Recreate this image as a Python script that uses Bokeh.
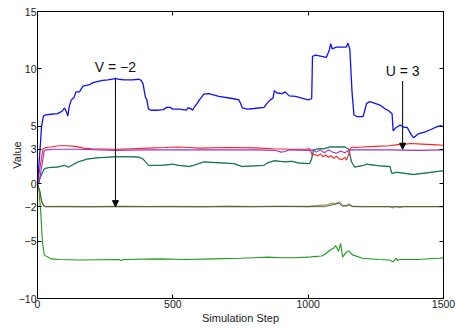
from bokeh.plotting import figure
from bokeh.models import LinearAxis, FixedTicker, Arrow, NormalHead, Label, CustomLabelingPolicy, Spacer
from bokeh.layouts import row
from bokeh.embed import file_html
from bokeh.resources import INLINE

# ---- data ----
blue_x = [0, 8, 15, 22, 30, 50, 74, 90, 100, 106, 112, 118, 125, 135, 142, 155, 168, 190, 205, 240, 260, 287,
          300, 320, 350, 375, 383, 390, 398, 404, 410, 420, 447, 465, 477, 490, 500, 525, 550, 555, 565, 573,
          580, 590, 598, 615, 633, 670, 725, 744, 750, 757, 775, 800, 837, 848, 860, 870, 875, 885, 905, 915,
          930, 953, 1000, 1013, 1016, 1027, 1050, 1067, 1079, 1083, 1089, 1104, 1125, 1141, 1147, 1154, 1162,
          1169, 1179, 1203, 1216, 1228, 1265, 1285, 1295, 1310, 1314, 1325, 1340, 1355, 1366, 1380, 1390,
          1407, 1430, 1451, 1475, 1489, 1500]
blue_y = [0, 2.5, 5.0, 5.9, 6.0, 6.05, 6.1, 6.3, 6.6, 6.3, 5.9, 6.8, 7.3, 7.5, 8.0, 8.0, 8.5, 8.6, 8.8, 9.0, 9.05, 9.15,
          9.1, 9.05, 9.05, 9.1, 9.0, 8.7, 7.6, 7.3, 6.5, 6.4, 6.4, 6.45, 6.65, 6.65, 6.5, 6.5, 6.4, 6.6, 6.55, 6.4,
          6.7, 7.0, 7.3, 7.8, 7.85, 7.6, 7.4, 7.3, 7.0, 6.6, 6.5, 6.55, 6.65, 7.0, 7.3, 7.45, 8.1, 7.9, 7.85, 8.0,
          7.65, 7.6, 7.3, 7.4, 11.1, 11.2, 11.1, 11.0, 11.7, 12.2, 11.75, 11.9, 11.9, 11.9, 12.25, 11.7, 8.0,
          6.0, 5.85, 5.85, 7.0, 7.15, 6.85, 6.5, 6.4, 6.1, 4.6, 4.9, 5.1, 4.9, 4.9, 4.3, 4.0,
          4.35, 4.5, 4.7, 4.95, 5.05, 4.95]

red_x = [0, 10, 20, 30, 50, 80, 110, 140, 170, 200, 287, 350, 410, 470, 520, 560, 600, 700, 800, 870, 940, 990,
         1005, 1015, 1025, 1035, 1045, 1055, 1065, 1075, 1085, 1095, 1105, 1115, 1125, 1135, 1142, 1150, 1155,
         1162, 1175, 1200, 1250, 1300, 1330, 1360, 1380, 1420, 1460, 1500]
red_y = [0, 1.5, 3.0, 3.15, 3.2, 3.3, 3.3, 3.25, 3.1, 3.05, 3.0, 3.05, 3.1, 3.15, 3.2, 3.15, 3.1, 3.15, 3.12, 3.05, 3.0, 3.0,
         3.05, 2.5, 2.55, 2.4, 2.6, 2.35, 2.5, 2.3, 2.45, 2.2, 2.4, 2.15, 2.1, 2.3, 2.05, 2.6, 3.0,
         3.2, 3.15, 3.2, 3.25, 3.3, 3.4, 3.45, 3.5, 3.45, 3.4, 3.35]

purple_x = [0, 6, 12, 25, 32, 60, 150, 287, 400, 600, 800, 880, 900, 915, 930, 1000, 1020, 1030, 1045, 1060,
            1075, 1090, 1105, 1120, 1135, 1150, 1160, 1200, 1300, 1400, 1500]
purple_y = [0, 0.0, 1.0, 2.9, 2.95, 3.0, 3.0, 2.9, 2.95, 2.95, 2.95, 2.9, 2.75, 2.8, 2.95, 2.9, 2.95, 2.75, 2.95, 2.7,
            2.95, 2.75, 2.65, 2.85, 2.7, 2.9, 2.95, 2.95, 2.95, 2.9, 2.95]

teal_x = [0, 15, 25, 40, 74, 100, 115, 150, 185, 220, 287, 350, 375, 390, 410, 460, 500, 521, 560, 577, 615, 650,
          725, 756, 800, 837, 848, 875, 915, 940, 965, 1005, 1012, 1020, 1040, 1060, 1079, 1100, 1135, 1150, 1160,
          1172, 1205, 1216, 1265, 1302, 1309, 1327, 1388, 1440, 1489, 1500]
teal_y = [0, 0.8, 1.3, 1.4, 1.45, 1.6, 1.45, 1.9, 2.15, 2.25, 2.35, 2.35, 2.3, 2.15, 1.6, 1.6, 1.7, 1.6, 1.5, 1.6, 1.9, 1.85,
          1.75, 1.5, 1.55, 1.6, 1.8, 2.0, 1.9, 1.95, 1.8, 1.75, 2.1, 2.95, 3.05, 3.05, 3.2, 3.2, 3.2, 3.0, 1.9,
          1.45, 1.6, 1.7, 1.55, 1.5, 0.9, 1.0, 0.8, 0.95, 1.1, 1.1]

olive_x = [0, 8, 16, 24, 30, 100, 200, 300, 400, 500, 600, 700, 800, 900, 1000, 1060, 1075, 1090, 1100, 1114,
           1127, 1140, 1151, 1164, 1200, 1300, 1313, 1320, 1340, 1350, 1400, 1500]
olive_y = [0, -0.6, -1.6, -1.95, -2.0, -1.98, -2.02, -1.97, -2.0, -1.98, -2.02, -1.97, -2.0, -1.95, -1.98, -1.85,
           -1.8, -1.7, -1.75, -1.6, -1.9, -1.95, -1.77, -1.96, -2.0, -2.0, -2.1, -2.0, -2.08, -2.0, -2.0, -2.0]

dark_x = [0, 8, 16, 24, 30, 1060, 1090, 1114, 1127, 1151, 1164, 1500]
dark_y = [0, -0.6, -1.6, -1.95, -2.0, -2.0, -1.85, -1.7, -1.95, -1.85, -2.0, -2.0]

green_x = [0, 5, 12, 18, 25, 35, 50, 80, 150, 300, 310, 320, 450, 550, 650, 750, 800, 850, 900, 950, 1000, 1020,
           1050, 1065, 1080, 1095, 1102, 1112, 1120, 1127, 1140, 1150, 1164, 1200, 1260, 1300, 1313, 1325, 1330,
           1340, 1400, 1485, 1495, 1500]
green_y = [0, -0.5, -2.5, -5.0, -6.2, -6.35, -6.55, -6.6, -6.65, -6.6, -6.7, -6.6, -6.55, -6.6, -6.55, -6.5, -6.45,
           -6.4, -6.45, -6.45, -6.4, -6.35, -6.3, -6.1, -5.8, -5.6, -5.4, -5.9, -5.2, -6.4, -6.0, -5.85, -6.2, -6.5,
           -6.6, -6.65, -6.8, -6.5, -6.7, -6.6, -6.6, -6.5, -6.45, -6.55]

x_ticks = [0, 500, 1000, 1500]
y_ticks = [-10, -5, -2, 0, 3, 5, 10, 15]

notes = ["V = \u22122", "U = 3"]
note_x = [288, 1349]
note_y = [9.45, 9.1]
arrow_start = [9.25, 8.95]
arrow_end = [-2.0, 3.0]

FONT = "Liberation Sans"

p = figure(frame_width=406, frame_height=287, x_range=(0, 1500), y_range=(-10, 15),
           output_backend="svg", toolbar_location=None,
           min_border_left=0, min_border_right=0, min_border_top=5, min_border_bottom=0)
p.background_fill_color = "white"
p.border_fill_color = "white"
p.outline_line_color = "black"
p.outline_line_width = 1
p.xgrid.visible = False
p.ygrid.visible = False

hide_all = CustomLabelingPolicy(code="const ids = [...indices]; for (const i of ids) indices.unset(i); return indices")

def style_axis(ax, ticks, labels=True):
    ax.ticker = FixedTicker(ticks=ticks)
    ax.major_tick_in = 4
    ax.major_tick_out = 0
    ax.minor_tick_line_color = None
    ax.axis_line_color = "black"
    ax.major_tick_line_color = "black"
    ax.major_label_text_font = FONT
    ax.major_label_text_font_size = "10.5px"
    ax.major_label_text_color = "#222222"
    ax.major_label_text_line_height = 1.0
    ax.major_label_standoff = 1 if labels else 0
    ax.axis_label_text_font = FONT
    ax.axis_label_text_font_size = "11px"
    ax.axis_label_text_font_style = "normal"
    ax.axis_label_text_color = "#222222"
    ax.axis_label_text_line_height = 1.0
    if not labels:
        ax.major_label_policy = hide_all

style_axis(p.xaxis[0], x_ticks)
style_axis(p.yaxis[0], y_ticks)
p.xaxis.axis_label = "Simulation Step"
p.yaxis.axis_label = "Value"
p.xaxis.axis_label_standoff = 1
p.yaxis.axis_label_standoff = -7
p.yaxis.major_label_overrides = {t: str(t).replace("-", "\u2212") for t in y_ticks}

ax_r = LinearAxis()
style_axis(ax_r, y_ticks, labels=False)
p.add_layout(ax_r, "right")
ax_t = LinearAxis()
style_axis(ax_t, x_ticks, labels=False)
p.add_layout(ax_t, "above")

p.line(green_x, green_y, line_color="#1e9a1e", line_width=1.1)
p.line(olive_x, olive_y, line_color="#a0a070", line_width=1.4)
p.line(dark_x, dark_y, line_color="#404020", line_width=0.8)
p.line(teal_x, teal_y, line_color="#4a8aa8", line_width=1.4, line_alpha=0.7)
p.line(teal_x, teal_y, line_color="#006b2d", line_width=0.9)
p.line(red_x, red_y, line_color="#ff2020", line_width=1.1)
p.line(purple_x, purple_y, line_color="#9933cc", line_width=1.1)
p.line(blue_x, blue_y, line_color="#1010ff", line_width=1.3)

for t, x, y, y0, y1 in zip(notes, note_x, note_y, arrow_start, arrow_end):
    p.add_layout(Label(x=x, y=y, text=t, text_align="center", text_baseline="bottom",
                       text_font=FONT, text_font_size="14px", text_color="#111111"))
    p.add_layout(Arrow(x_start=x, y_start=y0, x_end=x, y_end=y1, line_color="black", line_width=1,
                       end=NormalHead(size=6, fill_color="black", line_color="black")))

layout = row(Spacer(width=7, height=10), p)
open("out.html", "w").write(file_html(layout, INLINE))
